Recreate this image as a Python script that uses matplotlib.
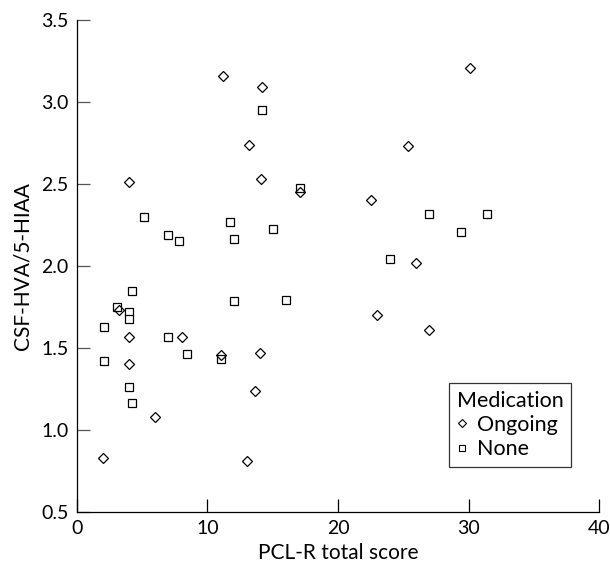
import matplotlib
matplotlib.use("Agg")
import matplotlib.pyplot as plt
from matplotlib.lines import Line2D

# PCL-R score vs CSF-HVA/5-HIAA
ongoing_x = [3.2, 4.0, 8.05, 11.0, 4.0, 5.95, 2.0, 13.0, 14.0, 13.65, 11.15,
             14.15, 13.15, 4.0, 14.1, 17.1, 30.1, 25.35, 22.5, 26.0, 23.0, 27.0]
ongoing_y = [1.73, 1.57, 1.57, 1.46, 1.40, 1.08, 0.83, 0.81, 1.47, 1.24, 3.16,
             3.09, 2.74, 2.51, 2.53, 2.45, 3.21, 2.73, 2.40, 2.02, 1.70, 1.61]

none_x = [4.2, 3.1, 4.0, 4.0, 2.05, 7.0, 8.4, 11.0, 2.05, 4.0, 4.2, 12.0,
          14.15, 17.1, 5.1, 11.7, 15.0, 7.0, 7.8, 12.0, 27.0, 31.4, 29.4,
          24.0, 16.05]
none_y = [1.85, 1.75, 1.72, 1.675, 1.63, 1.57, 1.465, 1.435, 1.42, 1.26,
          1.165, 1.785, 2.95, 2.475, 2.30, 2.27, 2.225, 2.19, 2.15, 2.165,
          2.32, 2.32, 2.21, 2.04, 1.79]

xticks = [0, 10, 20, 30, 40]
yticks = [0.5, 1.0, 1.5, 2.0, 2.5, 3.0, 3.5]

plt.rcParams['font.family'] = ['Lato', 'DejaVu Sans']

fig = plt.figure(figsize=(6.1, 5.64), dpi=100)
ax = fig.add_axes([0.1262, 0.0922, 0.8558, 0.8723])

ax.plot(none_x, none_y, ls='none', marker='s', ms=6.4, mfc='white',
        mec='black', mew=0.9, label='None')
ax.plot(ongoing_x, ongoing_y, ls='none', marker='D', ms=5.0, mfc='none',
        mec='black', mew=0.9, label='Ongoing')

ax.set_xlim(0, 40)
ax.set_ylim(0.5, 3.5)
ax.set_xticks(xticks)
ax.set_yticks(yticks)
ax.set_yticklabels(["%.1f" % v for v in yticks])

for s in ['top', 'right']:
    ax.spines[s].set_visible(False)
for s in ['left', 'bottom']:
    ax.spines[s].set_linewidth(0.9)

ax.tick_params(axis='both', direction='in', length=9.5, width=0.9,
               labelsize=14, pad=6)
ax.tick_params(axis='y', color='#555555')

ax.set_xlabel("PCL-R total score", fontsize=15, labelpad=4)
ax.set_ylabel("CSF-HVA/5-HIAA", fontsize=15, labelpad=6)

handles = [Line2D([], [], ls='none', marker='D', ms=3.8, mfc='none',
                  mec='black', mew=0.8),
           Line2D([], [], ls='none', marker='s', ms=4.6, mfc='none',
                  mec='black', mew=0.8)]
leg = ax.legend(handles, ['Ongoing', 'None'], title='Medication',
                loc='lower right', bbox_to_anchor=(0.946, 0.092),
                fontsize=15.5, title_fontsize=15.5, frameon=True,
                fancybox=False, handlelength=0.5, handletextpad=0.45,
                borderpad=0.35, labelspacing=0.2, borderaxespad=0,
                edgecolor='black')
leg._legend_box.align = 'left'
leg.get_frame().set_linewidth(0.9)

fig.savefig("out.png", dpi=100)
